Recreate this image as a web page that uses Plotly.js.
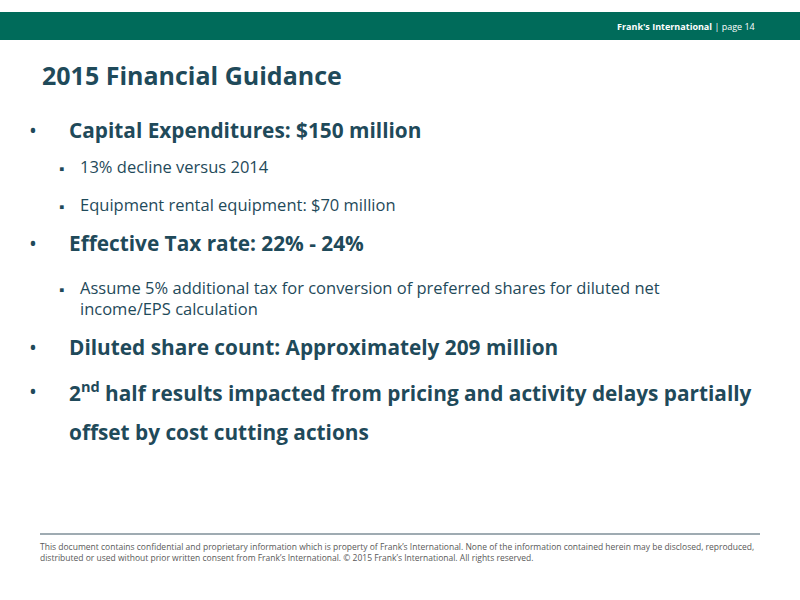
<!DOCTYPE html>
<html>
<head>
<meta charset="utf-8">
<script src="https://cdn.plot.ly/plotly-3.0.1.min.js"></script>
<style>html,body{margin:0;padding:0;background:#fff;}#chart{width:800px;height:600px;}</style>
</head>
<body>
<div id="chart"></div>
<script>
// Slide content
var headerCompany = "Frank's International";
var headerPage = "| page 14";
var slideTitle = "2015 Financial Guidance";
var mainBullets = [
  ["Capital Expenditures: $150 million"],
  ["Effective Tax rate: 22% - 24%"],
  ["Diluted share count: Approximately 209 million"],
  ["2<sup>nd</sup> half results impacted from pricing and activity delays partially", "offset by cost cutting actions"]
];
var subBullets = [
  [["13% decline versus 2014"], ["Equipment rental equipment: $70 million"]],
  [["Assume 5% additional tax for conversion of preferred shares for diluted net", "income/EPS calculation"]],
  [],
  []
];
var footerLines = [
  "This document contains confidential and proprietary information which is property of Frank\u2019s International. None of the information contained herein may be disclosed, reproduced,",
  "distributed or used without prior written consent from Frank\u2019s International. \u00a9 2015 Frank\u2019s International. All rights reserved."
];

// Layout positions (pixels from top)
var mainY = [130, 243, 347, 391];
var mainLineGap = 41;
var subY = [[167, 205], [288], [], []];

var W = 800, H = 600;
function px(x) { return x / W; }
function py(y) { return 1 - y / H; }

var FONT = "Open Sans, Noto Sans, sans-serif";
var TEXT = "#1F4A5A";
var annotations = [];

function txt(x, y, t, size, color, anchor, yanchor) {
  annotations.push({x: px(x), y: py(y), text: t, xanchor: anchor || "left", yanchor: yanchor || "middle", align: "left",
    font: {family: FONT, size: size, color: color || TEXT}, showarrow: false});
}

txt(40, 75, "<b>" + slideTitle + "</b>", 25);
txt(757, 26, "<b>" + headerCompany + "</b> " + headerPage, 9, "#ffffff", "right");

mainBullets.forEach(function (lines, i) {
  txt(27, mainY[i], "\u2022", 21);
  lines.forEach(function (l, k) {
    txt(67, mainY[i] + k * mainLineGap, "<b>" + l + "</b>", 20.8);
  });
  subBullets[i].forEach(function (sl, j) {
    var yy = subY[i][j];
    txt(57, yy + 1, "\u25AA", 15);
    // multi-line sub-bullet: one annotation, top-anchored at first line
    txt(78, yy - 14, sl.join("<br>"), 16.5, TEXT, "left", "top");
  });
});

txt(38, 539, footerLines.join("<br>"), 8.5, "#595959", "left", "top");

var shapes = [
  {type: "rect", xref: "paper", yref: "paper", x0: 0, x1: 1, y0: py(40), y1: py(12), fillcolor: "#006B5A", line: {width: 0}, layer: "below"},
  {type: "line", xref: "paper", yref: "paper", x0: px(40), x1: px(760), y0: py(534), y1: py(534), line: {color: "#7F8F99", width: 1.5}}
];

var layout = {
  width: W, height: H,
  margin: {l: 0, r: 0, t: 0, b: 0},
  paper_bgcolor: "#ffffff", plot_bgcolor: "#ffffff",
  xaxis: {visible: false, range: [0, 1], fixedrange: true},
  yaxis: {visible: false, range: [0, 1], fixedrange: true},
  showlegend: false,
  annotations: annotations,
  shapes: shapes
};

Plotly.newPlot("chart", [], layout, {displayModeBar: false, staticPlot: true});
</script>
</body>
</html>
